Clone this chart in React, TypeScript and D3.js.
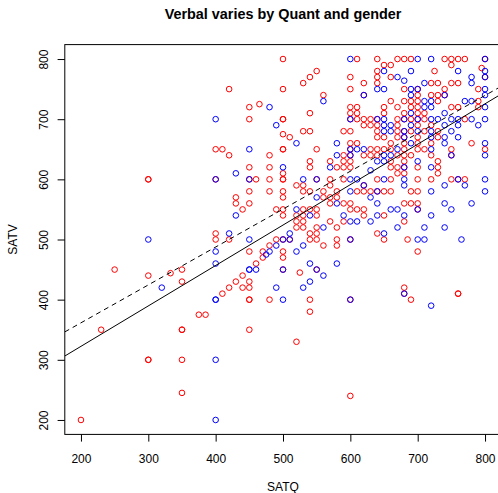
import { useEffect, useRef } from "react";
import * as d3 from "d3";

const title = "Verbal varies by Quant and gender";
const xLabel = "SATQ";
const yLabel = "SATV";
const xTicks = [200, 300, 400, 500, 600, 700, 800];
const yTicks = [200, 300, 400, 500, 600, 700, 800];

// [SATQ, SATV], gender 2 (red)
const female: [number, number][] = [
  [420,750],[400,650],[410,650],[420,640],[300,600],[300,600],[400,600],[430,570],[430,560],[440,550],[400,510],[400,500],[420,500],
  [250,450],[300,440],[333,444],[350,450],[350,430],[230,350],[375,375],[385,375],[350,350],[350,350],[300,300],[300,300],[350,300],[350,245],[200,200],
  [450,480],[460,460],[440,440],[430,430],[450,430],[420,420],[440,420],[450,420],[410,410],[450,400],[450,400],[450,350],
  [470,480],[480,490],[470,470],[490,500],[500,500],[500,480],[500,470],[500,450],[480,400],[525,445],[540,400],[540,380],[520,330],[550,450],
  [540,500],[550,500],[560,490],[580,500],[580,490],[600,500],[600,400],[600,240],[650,500],
  [685,500],[700,480],[680,420],[680,410],[690,400],[760,410],[760,410],
  [500,800],[610,800],[640,800],[650,790],[640,780],[550,780],[540,770],[530,760],[500,750],[600,770],[620,760],[600,750],[620,740],[640,770],[640,760],
  [560,740],[465,725],[450,720],[600,720],[610,720],[600,710],[610,710],[540,710],[650,720],[650,710],[450,700],[500,700],[500,700],[600,700],[610,700],
  [620,700],[630,700],[640,700],[620,690],[630,690],[640,690],[500,675],[510,670],[530,680],[540,680],[600,680],[590,680],[640,680],[640,670],[500,650],
  [500,650],[550,650],[480,640],[600,660],[610,660],[600,650],[630,650],[640,650],[650,650],[590,640],[600,640],[620,640],[630,640],[640,640],[570,630],
  [580,620],[590,620],[590,630],[450,620],[480,620],[500,610],[540,630],[540,620],[450,600],[460,600],[480,600],[500,600],[500,600],[550,600],[570,600],
  [590,600],[450,580],[480,580],[500,580],[500,570],[520,590],[530,590],[540,580],[560,580],[570,570],[570,560],[580,580],[580,570],[590,560],[600,560],
  [610,580],[620,580],[630,580],[620,590],[640,580],[650,580],[450,560],[490,550],[500,550],[500,540],[530,550],[540,550],[550,550],[550,540],[550,520],
  [550,510],[510,500],[520,520],[520,530],[530,530],[530,520],[580,520],[570,530],[590,530],[600,550],[610,550],[620,550],[620,540],[650,540],[640,510],
  [600,630],[600,620],[570,590],[640,600],[530,580],[560,570],[520,540],[530,540],[540,510],
  [670,800],[680,800],[690,800],[740,800],[750,800],[760,800],[770,800],[800,800],[660,790],[750,790],[795,785],[725,780],[660,770],[800,770],[720,760],
  [730,760],[750,760],[760,760],[680,750],[700,750],[740,750],[790,750],[700,740],[720,740],[730,740],[740,740],[660,730],[680,730],[690,730],[700,730],
  [730,730],[790,730],[670,720],[690,720],[700,720],[750,720],[760,720],[790,720],[680,710],[700,710],[710,710],[670,700],[680,700],[690,700],[700,700],
  [710,700],[770,700],[670,690],[700,690],[720,690],[670,680],[680,680],[690,680],[710,680],[730,680],[650,670],[670,670],[680,670],[700,670],[730,670],
  [660,660],[680,660],[700,660],[720,660],[780,660],[660,650],[680,650],[700,650],[710,650],[750,650],[800,650],[670,640],[690,640],[720,640],[750,640],
  [660,630],[680,630],[730,630],[660,620],[670,620],[700,620],[730,620],[670,610],[680,610],[730,610],[660,600],[700,600],[720,600],[750,600],[760,600],
  [770,600],[660,580],[690,580],[700,580],[680,560],[690,560],[700,560],[700,550],[680,530],[680,640],[680,620],
];

// gender 1 (blue)
const male: [number, number][] = [
  [400,700],[430,610],[400,600],[430,540],[300,500],[420,510],[400,480],
  [320,420],[400,460],[400,400],[400,400],[400,300],[400,200],[450,450],[450,450],[460,450],
  [450,500],[480,480],[475,475],[500,500],[510,500],[490,490],[500,450],[490,420],[500,400],[520,480],[530,490],[530,420],[540,460],[540,430],
  [550,450],[560,440],[580,460],[600,500],[600,400],
  [700,500],[710,500],[765,500],[680,410],[720,390],
  [600,800],[650,780],[640,750],[650,750],[620,740],[560,730],[480,720],[490,690],[600,700],[640,700],[650,700],[650,680],[520,660],[450,650],[580,660],
  [600,650],[610,650],[620,650],[580,640],[650,640],[570,620],[640,630],[650,630],[500,620],[450,600],[530,600],[550,600],[600,600],[610,600],[630,615],
  [650,600],[550,570],[580,560],[620,590],[630,570],[640,560],[520,550],[560,520],[510,510],[590,540],[610,530],[630,530],[640,540],[650,510],
  [600,640],[600,580],[640,580],[540,540],[600,530],[680,670],
  [700,800],[720,800],[800,800],[690,780],[760,780],[800,780],[670,770],[800,770],[780,770],[680,764],[710,760],[780,760],[690,750],[700,750],[800,750],
  [690,740],[740,740],[800,740],[710,730],[720,730],[770,730],[780,730],[710,720],[720,720],[800,720],[690,710],[740,710],[680,700],[700,700],[720,700],
  [730,700],[750,700],[760,700],[780,700],[800,700],[650,690],[660,690],[690,690],[740,690],[760,690],[790,690],[660,680],[680,680],[700,680],[720,680],
  [750,680],[720,670],[740,670],[760,670],[690,660],[740,660],[800,660],[670,650],[720,650],[660,640],[750,640],[800,640],[700,630],[680,620],[720,620],
  [680,600],[760,600],[800,600],[680,590],[740,590],[770,590],[720,580],[800,580],[740,560],[780,560],[660,550],[670,550],[700,550],[750,550],[680,540],
  [720,540],[670,520],[710,520],[740,520],
];

// fitted lines SATV ~ SATQ, one per gender
const fitIntercept = [188, 235.5];
const fitSlope = [0.672, 0.63];

const width = 498;
const height = 493;
const font = "'Liberation Sans', Arial, Helvetica, sans-serif";

export default function App() {
  const xAxisRef = useRef<SVGGElement>(null);
  const yAxisRef = useRef<SVGGElement>(null);

  const left = 64.8, right = 501.2, top = 44.6, bottom = 434.4;
  const x = d3.scaleLinear([176, 824], [left, right]);
  const y = d3.scaleLinear([176, 824], [bottom, top]);

  useEffect(() => {
    const gx = d3.select(xAxisRef.current!);
    gx.selectAll("*").remove();
    gx.call(d3.axisBottom(x).tickValues(xTicks).tickSize(7.2).tickSizeOuter(0).tickFormat(d3.format("d")));
    gx.select(".domain").remove();
    gx.attr("font-size", 12).attr("font-family", font);
    gx.selectAll(".tick line").attr("stroke", "#000");
    gx.selectAll(".tick text").attr("y", 28.6).attr("dy", null).attr("fill", "#000");

    const gy = d3.select(yAxisRef.current!);
    gy.selectAll("*").remove();
    gy.call(d3.axisLeft(y).tickValues(yTicks).tickSize(7.2).tickSizeOuter(0).tickFormat(d3.format("d")));
    gy.select(".domain").remove();
    gy.attr("font-size", 12).attr("font-family", font);
    gy.selectAll(".tick line").attr("stroke", "#000");
    gy.selectAll(".tick text")
      .attr("x", null)
      .attr("dy", null)
      .attr("text-anchor", "middle")
      .attr("fill", "#000")
      .attr("transform", `translate(${48 - left},0) rotate(-90)`);
  }, []);

  return (
    <>
      <style>{`body{margin:0}`}</style>
      <svg width={width} height={height} style={{ display: "block", background: "#fff" }}>
        <defs>
          <clipPath id="plot">
            <rect x={left} y={top} width={right - left} height={bottom - top} />
          </clipPath>
        </defs>
        <text x={(left + right) / 2} y={19} textAnchor="middle" fontFamily={font} fontSize={14.4} fontWeight="bold">
          {title}
        </text>
        <g fill="none" strokeWidth={1}>
          {female.map((d, i) => (
            <circle key={"f" + i} cx={x(d[0])} cy={y(d[1])} r={2.8} stroke="#ff0000" />
          ))}
          {male.map((d, i) => (
            <circle key={"m" + i} cx={x(d[0])} cy={y(d[1])} r={2.8} stroke="#0000ff" />
          ))}
        </g>
        <g clipPath="url(#plot)">
          {fitIntercept.map((a, i) => (
            <line
              key={i}
              x1={x(176)}
              y1={y(a + fitSlope[i] * 176)}
              x2={x(824)}
              y2={y(a + fitSlope[i] * 824)}
              stroke="#000"
              strokeWidth={1}
              strokeDasharray={i === 1 ? "5,4" : undefined}
            />
          ))}
        </g>
        <rect x={left} y={top} width={right - left} height={bottom - top} fill="none" stroke="#000" strokeWidth={1} />
        <g ref={xAxisRef} transform={`translate(0,${bottom})`} />
        <g ref={yAxisRef} transform={`translate(${left},0)`} />
        <text x={(left + right) / 2} y={491} textAnchor="middle" fontFamily={font} fontSize={12}>
          {xLabel}
        </text>
        <text transform={`translate(17,${(top + bottom) / 2}) rotate(-90)`} textAnchor="middle" fontFamily={font} fontSize={12}>
          {yLabel}
        </text>
      </svg>
    </>
  );
}
